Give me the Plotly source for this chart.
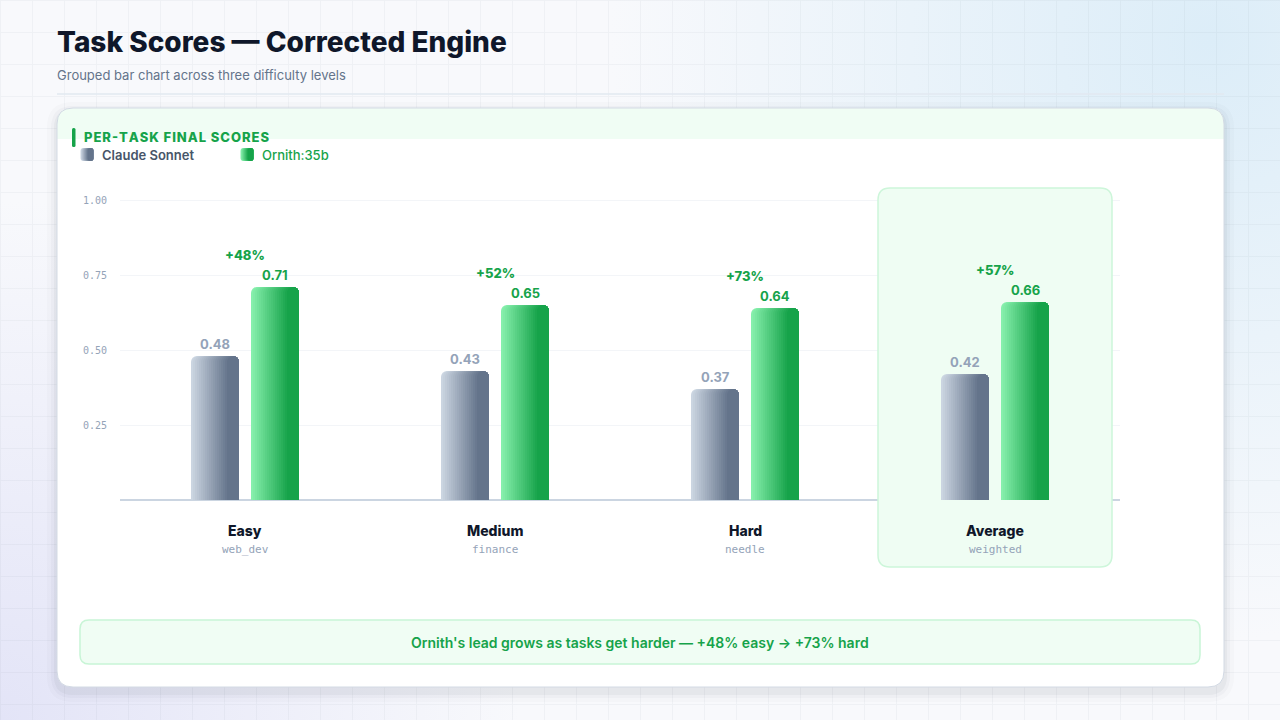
import base64
import plotly.graph_objects as go

# ---------------- data ----------------
categories = ["Easy", "Medium", "Hard", "Average"]
subtitles = ["web_dev", "finance", "needle", "weighted"]
claude_scores = [0.48, 0.43, 0.37, 0.42]
ornith_scores = [0.71, 0.65, 0.64, 0.66]
lead_labels = ["+48%", "+52%", "+73%", "+57%"]
y_ticks = [0.25, 0.50, 0.75, 1.00]
series_names = ["Claude Sonnet", "Ornith:35b"]

# ---------------- geometry helpers ----------------
W_PX, H_PX = 1280, 720
L, T, PW, PH = 120, 180, 1000, 400
R, B = W_PX - L - PW, H_PX - T - PH


def X(px):
    return (px - L) / PW


def Y(py):
    return 1 - (py - T) / PH


def rrect(x0, y0, x1, y1, r, top_only=False):
    rb = 0 if top_only else r
    p = [
        f"M {X(x0 + r)},{Y(y0)}",
        f"L {X(x1 - r)},{Y(y0)}",
        f"Q {X(x1)},{Y(y0)} {X(x1)},{Y(y0 + r)}",
        f"L {X(x1)},{Y(y1 - rb)}",
    ]
    if rb:
        p.append(f"Q {X(x1)},{Y(y1)} {X(x1 - rb)},{Y(y1)}")
    p.append(f"L {X(x0 + rb)},{Y(y1)}")
    if rb:
        p.append(f"Q {X(x0)},{Y(y1)} {X(x0)},{Y(y1 - rb)}")
    p += [f"L {X(x0)},{Y(y0 + r)}", f"Q {X(x0)},{Y(y0)} {X(x0 + r)},{Y(y0)}", "Z"]
    return " ".join(p)


def hex2rgb(h):
    h = h.lstrip("#")
    return tuple(int(h[i:i + 2], 16) for i in (0, 2, 4))


def mix(c0, c1, t):
    a, b = hex2rgb(c0), hex2rgb(c1)
    return "rgb({},{},{})".format(*[round(a[i] + (b[i] - a[i]) * t) for i in range(3)])


# ---------------- background (tints + grid) ----------------
svg = f"""<svg xmlns='http://www.w3.org/2000/svg' width='{W_PX}' height='{H_PX}'>
<defs>
<radialGradient id='tr' gradientUnits='userSpaceOnUse' cx='1210' cy='40' r='600'>
<stop offset='0' stop-color='#dcedf8' stop-opacity='1'/>
<stop offset='1' stop-color='#dcedf8' stop-opacity='0'/>
</radialGradient>
<radialGradient id='bl' gradientUnits='userSpaceOnUse' cx='0' cy='720' r='520'>
<stop offset='0' stop-color='#e3e4f7' stop-opacity='1'/>
<stop offset='1' stop-color='#e3e4f7' stop-opacity='0'/>
</radialGradient>
<pattern id='g' width='32' height='32' patternUnits='userSpaceOnUse'>
<path d='M 32 0.5 L 0.5 0.5 L 0.5 32' fill='none' stroke='rgba(100,116,139,0.06)' stroke-width='1'/>
</pattern>
</defs>
<rect width='{W_PX}' height='{H_PX}' fill='#f8f9fc'/>
<rect width='{W_PX}' height='{H_PX}' fill='url(#tr)'/>
<rect width='{W_PX}' height='{H_PX}' fill='url(#bl)'/>
<rect width='{W_PX}' height='{H_PX}' fill='url(#g)'/>
</svg>"""
bg_uri = "data:image/svg+xml;base64," + base64.b64encode(svg.encode()).decode()

# ---------------- colours ----------------
GRAY_L, GRAY_D = "#cbd5e1", "#64748b"
GREEN_L, GREEN_D = "#86efac", "#16a34a"
GREEN_TXT = "#16a34a"
INK = "#0f172a"
MUTED = "#94a3b8"

x_idx = list(range(len(categories)))
BAR_PX = 48                 # bar width in pixels
CAT_PX = PW / len(categories)
BAR_W = BAR_PX / CAT_PX     # bar width in category units
OFF = 0.12                  # centre offset of each bar from category centre

fig = go.Figure()

# Each bar is drawn as a stack of right-aligned layers whose left edge steps
# to the right, giving a horizontal light->dark gradient with rounded tops.
STEP_PX = 2
N_LAYERS = 19  # left edges 0..36 px, narrowest layer 12 px wide


def add_gradient_bars(values, centre_off, c_light, c_dark, name):
    left = centre_off - BAR_W / 2
    for k in range(N_LAYERS):
        lpx = k * STEP_PX
        wpx = BAR_PX - lpx
        t = k / (N_LAYERS - 1)
        fig.add_trace(go.Bar(
            x=x_idx, y=values, name=name, legendgroup=name, showlegend=False,
            width=wpx / CAT_PX, offset=left + lpx / CAT_PX,
            marker=dict(color=mix(c_light, c_dark, t), cornerradius=6, line=dict(width=0)),
            hoverinfo="y" if k == 0 else "skip",
        ))


add_gradient_bars(claude_scores, -OFF, GRAY_L, GRAY_D, series_names[0])
add_gradient_bars(ornith_scores, OFF, GREEN_L, GREEN_D, series_names[1])

shapes = []
# card shadow
for grow, op in [(10, 0.02), (6, 0.028), (3, 0.04)]:
    shapes.append(dict(type="path", xref="paper", yref="paper", layer="below",
                       path=rrect(57 - grow, 108 - grow + 4, 1224 + grow, 687 + grow + 5, 16 + grow),
                       fillcolor=f"rgba(30,41,59,{op})", line=dict(width=0)))
# card
shapes.append(dict(type="path", xref="paper", yref="paper", layer="below",
                   path=rrect(57, 108, 1224, 687, 16), fillcolor="#ffffff", line=dict(width=0)))
# header band
shapes.append(dict(type="path", xref="paper", yref="paper", layer="below",
                   path=rrect(57, 108, 1224, 139, 16, top_only=True), fillcolor="#f0fdf4",
                   line=dict(width=0)))
# card outline
shapes.append(dict(type="path", xref="paper", yref="paper", layer="below",
                   path=rrect(57, 108, 1224, 687, 16), fillcolor="rgba(0,0,0,0)",
                   line=dict(color="#d3dae4", width=1)))
# divider under subtitle
shapes.append(dict(type="line", xref="paper", yref="paper", layer="below",
                   x0=X(57), x1=X(1224), y0=Y(94), y1=Y(94),
                   line=dict(color="#e2e8f0", width=1.5)))
# accent bar
shapes.append(dict(type="path", xref="paper", yref="paper", layer="below",
                   path=rrect(72, 128, 75.5, 147, 1.5), fillcolor=GREEN_TXT, line=dict(width=0)))
# legend swatches (gradient via stepped layers)
for sx, cl, cd in [(80.5, GRAY_L, GRAY_D), (240.5, GREEN_L, GREEN_D)]:
    for k in range(8):
        t = k / 7
        shapes.append(dict(type="path", xref="paper", yref="paper", layer="below",
                           path=rrect(sx + k, 148, sx + 13, 161, 3),
                           fillcolor=mix(cl, cd, t), line=dict(width=0)))
# bottom note box
shapes.append(dict(type="path", xref="paper", yref="paper", layer="below",
                   path=rrect(80, 620, 1200, 664, 9), fillcolor="#f0fdf4",
                   line=dict(color="#c8f5d6", width=1.5)))
# baseline (x axis line)
shapes.append(dict(type="line", xref="x", yref="y", layer="below",
                   x0=-0.5, x1=3.5, y0=0, y1=0, line=dict(color="#cbd5e1", width=2)))

# highlight box behind the "Average" group (data coords)
hi = categories.index("Average")
hx0, hx1 = hi - 0.468, hi + 0.468
hy0, hy1 = -0.223, 1.04
rx, ry = 12 / CAT_PX, 12 / 300
hpath = (f"M {hx0 + rx},{hy1} L {hx1 - rx},{hy1} Q {hx1},{hy1} {hx1},{hy1 - ry} "
         f"L {hx1},{hy0 + ry} Q {hx1},{hy0} {hx1 - rx},{hy0} L {hx0 + rx},{hy0} "
         f"Q {hx0},{hy0} {hx0},{hy0 + ry} L {hx0},{hy1 - ry} Q {hx0},{hy1} {hx0 + rx},{hy1} Z")
shapes.append(dict(type="path", xref="x", yref="y", layer="between", path=hpath,
                   fillcolor="#effdf3", line=dict(color="#cdf6da", width=1.5)))

ann = []
FONT = "Inter"
MONO = "DejaVu Sans Mono"


def txt(text, px, py, size, color, weight=400, family=FONT, xanchor="left"):
    ann.append(dict(text=text, x=X(px), y=Y(py), xref="paper", yref="paper",
                    xanchor=xanchor, yanchor="middle", showarrow=False,
                    font=dict(family=family, size=size, color=color, weight=weight)))


txt("Task Scores — Corrected Engine", 55, 42, 28, INK, 800)
txt("Grouped bar chart across three difficulty levels", 55, 75, 13, "#64748b", 400)
hair = "\u200a"
txt(hair.join("PER-TASK FINAL SCORES"), 82, 137, 13, GREEN_TXT, 800)
txt(series_names[0], 100, 155, 13, "#475569", 600)
txt(series_names[1], 260, 155, 13, GREEN_TXT, 500)
txt("Ornith's lead grows as tasks get harder — +48% easy → +73% hard", 640, 642, 14,
    GREEN_TXT, 600, xanchor="center")

for i, (c, o) in enumerate(zip(claude_scores, ornith_scores)):
    ann.append(dict(x=i - OFF, y=c, xref="x", yref="y", yshift=12, yanchor="middle",
                    text=f"{c:.2f}", showarrow=False,
                    font=dict(family=FONT, size=13, color=MUTED, weight=700)))
    ann.append(dict(x=i + OFF, y=o, xref="x", yref="y", yshift=12, yanchor="middle",
                    text=f"{o:.2f}", showarrow=False,
                    font=dict(family=FONT, size=13, color=GREEN_TXT, weight=700)))
    ann.append(dict(x=i, y=o, xref="x", yref="y", yshift=32, yanchor="middle",
                    text=lead_labels[i], showarrow=False,
                    font=dict(family=FONT, size=13, color=GREEN_TXT, weight=800)))
    ann.append(dict(x=i, y=0, xref="x", yref="y", yshift=-31, yanchor="middle",
                    text=categories[i], showarrow=False,
                    font=dict(family=FONT, size=14, color=INK, weight=800)))
    ann.append(dict(x=i, y=0, xref="x", yref="y", yshift=-50, yanchor="middle",
                    text=subtitles[i], showarrow=False,
                    font=dict(family=MONO, size=11, color=MUTED)))

fig.update_layout(
    width=W_PX, height=H_PX, autosize=False,
    margin=dict(l=L, r=R, t=T, b=B, pad=0),
    paper_bgcolor="#f8f9fc", plot_bgcolor="rgba(0,0,0,0)",
    barmode="overlay", showlegend=False,
    xaxis=dict(range=[-0.5, 3.5], showticklabels=False, showgrid=False, zeroline=False,
               showline=False, ticks="", fixedrange=True),
    yaxis=dict(range=[-0.2667, 1.0667], tickvals=y_ticks,
               ticktext=[f"{v:.2f}" for v in y_ticks],
               showgrid=True, gridcolor="#f3f5f8", gridwidth=1, zeroline=False,
               showline=False, ticks="", ticklabelstandoff=12,
               tickfont=dict(family=MONO, size=10, color=MUTED), fixedrange=True),
    shapes=shapes, annotations=ann,
    images=[dict(source=bg_uri, xref="paper", yref="paper", x=X(0), y=Y(0),
                 sizex=W_PX / PW, sizey=H_PX / PH, xanchor="left", yanchor="top",
                 sizing="stretch", layer="below")],
    font=dict(family=FONT),
)

fig.write_html("out.html", config={"displayModeBar": False})
